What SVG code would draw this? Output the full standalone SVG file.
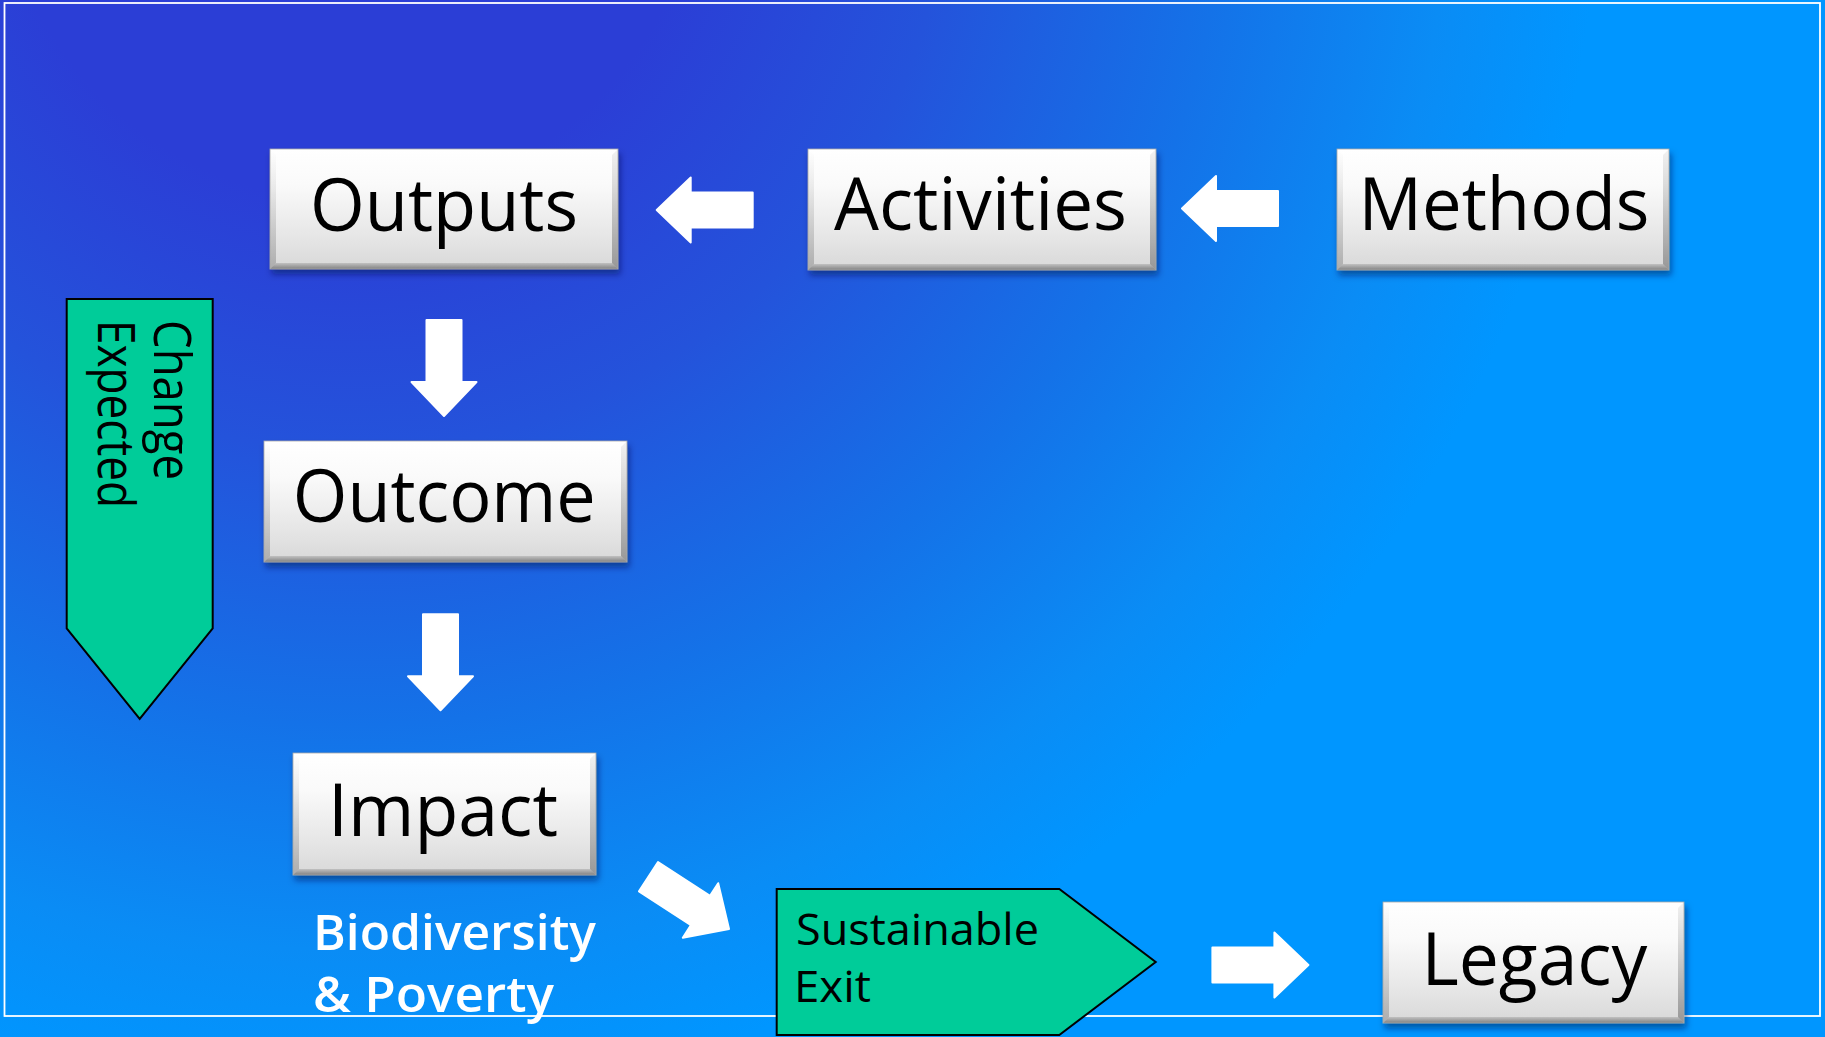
<svg xmlns="http://www.w3.org/2000/svg" width="1825" height="1037" viewBox="0 0 1825 1037">
  <defs>
    <radialGradient id="bg" gradientUnits="userSpaceOnUse" cx="350" cy="-150" r="1250" fx="350" fy="-150">
      <stop offset="0.28" stop-color="#2b3ed6"/>
      <stop offset="0.48" stop-color="#2453db"/>
      <stop offset="0.7" stop-color="#1472e8"/>
      <stop offset="0.88" stop-color="#0a8cf5"/>
      <stop offset="1" stop-color="#0096ff"/>
    </radialGradient>
    <linearGradient id="face" x1="0" y1="0" x2="0" y2="1">
      <stop offset="0" stop-color="#ffffff"/>
      <stop offset="0.3" stop-color="#fafafa"/>
      <stop offset="0.75" stop-color="#e5e5e5"/>
      <stop offset="1" stop-color="#d8d8d8"/>
    </linearGradient>
    <linearGradient id="gL" x1="0" y1="0" x2="0" y2="1">
      <stop offset="0" stop-color="#000" stop-opacity="0"/>
      <stop offset="1" stop-color="#000" stop-opacity="0.2"/>
    </linearGradient>
    <linearGradient id="gR" x1="0" y1="0" x2="0" y2="1">
      <stop offset="0" stop-color="#000" stop-opacity="0.05"/>
      <stop offset="1" stop-color="#000" stop-opacity="0.3"/>
    </linearGradient>
    <linearGradient id="gB" x1="0" y1="0" x2="0" y2="1">
      <stop offset="0" stop-color="#000" stop-opacity="0.12"/>
      <stop offset="1" stop-color="#000" stop-opacity="0.4"/>
    </linearGradient>
    <filter id="shadow" x="-10%" y="-10%" width="120%" height="130%">
      <feDropShadow dx="2" dy="5" stdDeviation="3" flood-color="#001050" flood-opacity="0.5"/>
    </filter>
    <path id="arrow" d="M0,-17.5 L62,-17.5 L62,-32.5 L96,0 L62,32.5 L62,17.5 L0,17.5 Z"/>
  </defs>
  <style>
    .face { fill: url(#face); }
    .bl { fill: url(#gL); }
    .br { fill: url(#gR); }
    .bb { fill: url(#gB); }
    .edge { fill: none; stroke: #a8a8a8; stroke-width: 0.8; }
    .lbl { font-family: "Open Sans", "Noto Sans", sans-serif; font-size: 74px; fill: #000; text-anchor: middle; }
    .green { fill: #00cc99; stroke: #000; stroke-width: 2; }
    .gtxt { font-family: "Open Sans", "Noto Sans", sans-serif; fill: #000; }
    .wtxt { font-family: "Open Sans", "Noto Sans", sans-serif; font-size: 49px; font-weight: 600; fill: #fff; }
    .arr { fill: #fff; stroke: #fff; stroke-width: 2; stroke-linejoin: round; }
  </style>

  <rect x="0" y="0" width="1825" height="1037" fill="url(#bg)"/>
  <rect x="4.5" y="3" width="1815.5" height="1013" fill="none" stroke="#fff" stroke-width="1.8"/>

  <g id="connectors">
    <use href="#arrow" class="arr" transform="translate(752.7,210) rotate(180)"/>
    <use href="#arrow" class="arr" transform="translate(1278,208.5) rotate(180)"/>
    <use href="#arrow" class="arr" transform="translate(444,320) rotate(90)"/>
    <use href="#arrow" class="arr" transform="translate(440.5,614.3) rotate(90)"/>
    <use href="#arrow" class="arr" transform="translate(648.5,876.7) rotate(33)"/>
    <use href="#arrow" class="arr" transform="translate(1212.4,965)"/>
  </g>

  <g id="node-outputs" filter="url(#shadow)">
    <rect class="face" x="270" y="149" width="348" height="120"/>
    <path class="bl" d="M270,149 L276,155 L276,263 L270,269 Z"/>
    <path class="br" d="M618,149 L612,155 L612,263 L618,269 Z"/>
    <path class="bb" d="M270,269 L276,263 L612,263 L618,269 Z"/>
    <rect class="edge" x="270" y="149" width="348" height="120"/>
    <text class="lbl" x="444" y="230.7" textLength="268" lengthAdjust="spacingAndGlyphs">Outputs</text>
  </g>

  <g id="node-activities" filter="url(#shadow)">
    <rect class="face" x="808" y="149" width="348" height="121"/>
    <path class="bl" d="M808,149 L814,155 L814,264 L808,270 Z"/>
    <path class="br" d="M1156,149 L1150,155 L1150,264 L1156,270 Z"/>
    <path class="bb" d="M808,270 L814,264 L1150,264 L1156,270 Z"/>
    <rect class="edge" x="808" y="149" width="348" height="121"/>
    <text class="lbl" x="980.5" y="230" textLength="293" lengthAdjust="spacingAndGlyphs">Activities</text>
  </g>

  <g id="node-methods" filter="url(#shadow)">
    <rect class="face" x="1337" y="149" width="332" height="121"/>
    <path class="bl" d="M1337,149 L1343,155 L1343,264 L1337,270 Z"/>
    <path class="br" d="M1669,149 L1663,155 L1663,264 L1669,270 Z"/>
    <path class="bb" d="M1337,270 L1343,264 L1663,264 L1669,270 Z"/>
    <rect class="edge" x="1337" y="149" width="332" height="121"/>
    <text class="lbl" x="1504" y="230" textLength="291" lengthAdjust="spacingAndGlyphs">Methods</text>
  </g>

  <g id="node-outcome" filter="url(#shadow)">
    <rect class="face" x="264" y="441" width="363" height="121"/>
    <path class="bl" d="M264,441 L270,447 L270,556 L264,562 Z"/>
    <path class="br" d="M627,441 L621,447 L621,556 L627,562 Z"/>
    <path class="bb" d="M264,562 L270,556 L621,556 L627,562 Z"/>
    <rect class="edge" x="264" y="441" width="363" height="121"/>
    <text class="lbl" x="444.3" y="522.3" textLength="303" lengthAdjust="spacingAndGlyphs">Outcome</text>
  </g>

  <g id="node-impact" filter="url(#shadow)">
    <rect class="face" x="293" y="753" width="303" height="122"/>
    <path class="bl" d="M293,753 L299,759 L299,869 L293,875 Z"/>
    <path class="br" d="M596,753 L590,759 L590,869 L596,875 Z"/>
    <path class="bb" d="M293,875 L299,869 L590,869 L596,875 Z"/>
    <rect class="edge" x="293" y="753" width="303" height="122"/>
    <text class="lbl" x="443" y="836" textLength="230" lengthAdjust="spacingAndGlyphs">Impact</text>
  </g>

  <g id="node-legacy" filter="url(#shadow)">
    <rect class="face" x="1383" y="902" width="301" height="121"/>
    <path class="bl" d="M1383,902 L1389,908 L1389,1017 L1383,1023 Z"/>
    <path class="br" d="M1684,902 L1678,908 L1678,1017 L1684,1023 Z"/>
    <path class="bb" d="M1383,1023 L1389,1017 L1678,1017 L1684,1023 Z"/>
    <rect class="edge" x="1383" y="902" width="301" height="121"/>
    <text class="lbl" x="1534.4" y="985" textLength="226" lengthAdjust="spacingAndGlyphs">Legacy</text>
  </g>

  <g id="node-change-expected">
    <path class="green" d="M66.7,299 L212.7,299 L212.7,628.3 L139.7,719 L66.7,628.3 Z"/>
    <g transform="translate(154.3,320) rotate(90)">
      <text class="gtxt" x="0" y="0" font-size="51" textLength="160" lengthAdjust="spacingAndGlyphs">Change</text>
      <text class="gtxt" x="0" y="56" font-size="51" textLength="188" lengthAdjust="spacingAndGlyphs">Expected</text>
    </g>
  </g>

  <g id="node-sustainable-exit">
    <path class="green" d="M776.7,889 L1059.3,889 L1155.7,962 L1059.3,1035 L776.7,1035 Z"/>
    <text class="gtxt" x="796" y="945" font-size="44" textLength="243" lengthAdjust="spacingAndGlyphs">Sustainable</text>
    <text class="gtxt" x="794" y="1001.7" font-size="44" textLength="77" lengthAdjust="spacingAndGlyphs">Exit</text>
  </g>

  <g id="label-biodiversity">
    <text class="wtxt" x="313" y="950" textLength="283" lengthAdjust="spacingAndGlyphs">Biodiversity</text>
    <text class="wtxt" x="313" y="1011.7" textLength="241" lengthAdjust="spacingAndGlyphs">&amp; Poverty</text>
  </g>
</svg>
